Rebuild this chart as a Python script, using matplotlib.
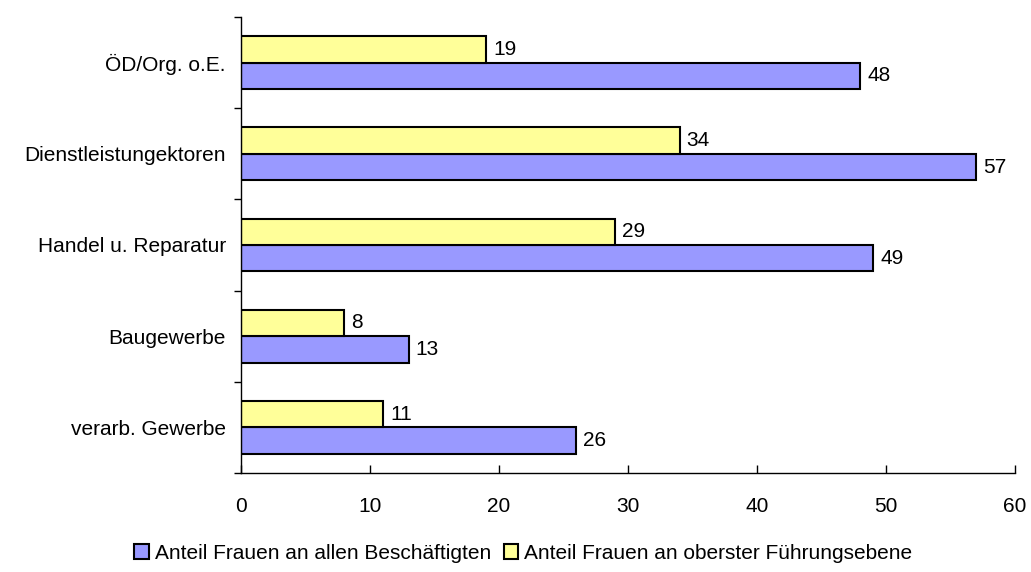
import numpy as np
import matplotlib.pyplot as plt
from matplotlib.ticker import FixedLocator

plt.rcParams["font.family"] = ["Liberation Sans", "DejaVu Sans"]

categories = ["verarb. Gewerbe", "Baugewerbe", "Handel u. Reparatur",
              "Dienstleistungektoren", "ÖD/Org. o.E."]
anteil_alle = [26, 13, 49, 57, 48]
anteil_fuehrung = [11, 8, 29, 34, 19]
series_names = ["Anteil Frauen an allen Beschäftigten",
                "Anteil Frauen an oberster Führungsebene"]
x_ticks = [0, 10, 20, 30, 40, 50, 60]

fig = plt.figure(figsize=(10.31, 5.72), dpi=100)
ax = fig.add_axes([0.2338, 0.1731, 0.7507, 0.7972])

y = np.arange(len(categories))
h = 0.29
b1 = ax.barh(y - h / 2, anteil_alle, height=h, color="#9999FF",
             edgecolor="black", linewidth=1.5, label=series_names[0])
b2 = ax.barh(y + h / 2, anteil_fuehrung, height=h, color="#FFFF99",
             edgecolor="black", linewidth=1.5, label=series_names[1])

for bars, vals in ((b1, anteil_alle), (b2, anteil_fuehrung)):
    for bar, v in zip(bars, vals):
        ax.annotate(str(v), (bar.get_width(), bar.get_y() + bar.get_height() / 2),
                    xytext=(5, 0), textcoords="offset points",
                    va="center", ha="left", fontsize=15)

ax.set_xlim(0, 60)
ax.set_ylim(-0.5, len(categories) - 0.5)
ax.set_xticks(x_ticks)
ax.set_yticks(y)
ax.set_yticklabels(categories)
ax.yaxis.set_minor_locator(FixedLocator(np.arange(len(categories) + 1) - 0.5))

ax.tick_params(axis="y", which="major", length=0, pad=11, labelsize=15)
ax.tick_params(axis="y", which="minor", length=5, width=1, direction="out")
ax.tick_params(axis="x", which="major", length=6, width=1, direction="in",
               pad=17, labelsize=15)

for side in ("top", "right"):
    ax.spines[side].set_visible(False)
for side in ("left", "bottom"):
    ax.spines[side].set_linewidth(1)

fig.legend(handles=[b1, b2], loc="center", bbox_to_anchor=(0.5075, 0.033),
           ncol=2, frameon=False, fontsize=15, handlelength=0.7,
           handleheight=0.7, handletextpad=0.3, columnspacing=0.6,
           borderpad=0.2)

fig.savefig("out.png", dpi=100)
